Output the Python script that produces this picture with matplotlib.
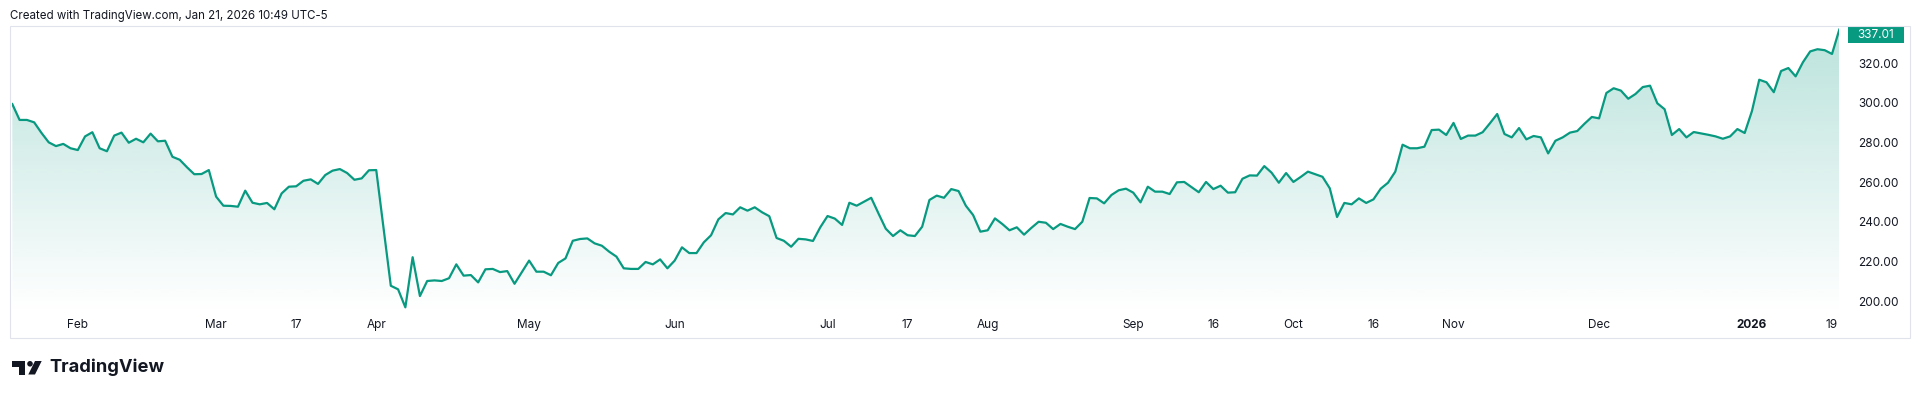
import numpy as np
import pandas as pd
import matplotlib
matplotlib.use("Agg")
import matplotlib.pyplot as plt
from matplotlib.patches import Rectangle, Circle, Polygon
from matplotlib.transforms import IdentityTransform
from matplotlib.colors import to_rgb

plt.rcParams['font.family'] = ['Inter', 'DejaVu Sans']

# daily closes, one per trading day (2025-01-21 .. 2026-01-21)
close_jan_mar = [299.4, 291.4, 291.4, 290.2, 284.9, 280.1, 278.2, 279.3, 277.1, 276.2,
                 283.1, 285.2, 277.1, 275.6, 283.5, 285.0, 279.9, 281.9, 280.1, 284.5,
                 280.6, 280.9, 272.8, 271.3, 267.5, 264.0, 264.1, 266.1, 252.7, 248.1,
                 248.0, 247.6, 255.7, 249.6, 248.8, 249.5, 246.3, 254.3, 257.7, 257.9,
                 260.7, 261.4, 259.1]
close_mar_may = [263.6, 265.8, 266.6, 264.6, 261.2, 261.9, 266.0, 266.1, 237.0, 207.7,
                 205.9, 196.8, 222.1, 202.5, 210.1, 210.4, 210.1, 211.5, 218.5, 212.8,
                 213.1, 209.4, 216.0, 216.2, 214.6, 215.1, 208.7, 214.5, 220.4, 214.8,
                 214.8, 213.0, 219.2, 221.5, 230.4, 231.3, 231.6, 229.1, 227.9, 224.9,
                 222.4, 216.5]
close_may_jul = [216.2, 216.2, 219.7, 218.5, 221.0, 216.5, 220.4, 227.1, 224.2, 224.2,
                 229.6, 233.2, 241.2, 244.4, 243.7, 247.3, 245.6, 247.3, 244.8, 242.8,
                 231.8, 230.4, 227.4, 231.4, 231.1, 230.3, 237.2, 242.9, 241.6, 238.4,
                 249.6, 248.1, 250.1, 252.1, 244.2, 236.5, 232.8, 235.7, 233.2, 232.8,
                 237.5, 251.0]
close_jul_sep = [253.2, 252.1, 256.5, 255.5, 248.1, 243.4, 235.0, 235.7, 241.7, 238.9,
                 235.7, 237.2, 233.5, 236.9, 240.0, 239.5, 236.3, 238.9, 237.5, 236.3,
                 240.0, 252.0, 251.8, 249.3, 253.5, 255.9, 256.7, 254.7, 249.8, 257.7,
                 255.2, 255.2, 254.0, 259.9, 260.1, 257.5, 254.9, 260.1, 256.5, 258.2,
                 254.7, 254.9]
close_sep_nov = [261.7, 263.4, 263.3, 268.1, 264.8, 259.7, 264.6, 260.1, 262.6, 265.3,
                 264.0, 262.7, 256.9, 242.4, 249.5, 248.8, 251.8, 249.5, 251.3, 256.7,
                 259.7, 265.3, 278.9, 277.1, 277.1, 277.9, 286.3, 286.5, 283.8, 289.9,
                 281.8, 283.5, 283.5, 285.2, 289.7, 294.4, 284.3, 282.6, 287.3, 281.6,
                 283.3, 282.6]
close_nov_jan = [274.5, 280.9, 282.6, 285.0, 285.8, 289.5, 292.9, 292.2, 305.0, 307.4,
                 306.2, 302.1, 304.5, 308.0, 308.7, 299.8, 296.8, 283.8, 286.8, 282.6,
                 285.3, 284.6, 283.9, 283.1, 281.9, 283.1, 286.8, 284.8, 295.9, 311.7,
                 310.4, 305.4, 316.1, 317.6, 313.4, 320.5, 326.0, 327.1, 326.6, 324.7,
                 337.01]

holidays = ["2025-02-17", "2025-04-18", "2025-05-26", "2025-06-19", "2025-07-04",
            "2025-09-01", "2025-11-27", "2025-12-25", "2026-01-01", "2026-01-19"]

tick_dates = ["2025-02-01", "2025-03-01", "2025-03-17", "2025-04-01", "2025-05-01",
              "2025-06-01", "2025-07-01", "2025-07-17", "2025-08-01", "2025-09-01",
              "2025-09-16", "2025-10-01", "2025-10-16", "2025-11-01", "2025-12-01",
              "2026-01-01", "2026-01-19"]
tick_labels = ["Feb", "Mar", "17", "Apr", "May", "Jun", "Jul", "17", "Aug", "Sep",
               "16", "Oct", "16", "Nov", "Dec", "2026", "19"]
price_ticks = [200, 220, 240, 260, 280, 300, 320]

close = np.array(close_jan_mar + close_mar_may + close_may_jul +
                 close_jul_sep + close_sep_nov + close_nov_jan)
dates = pd.bdate_range("2025-01-21", "2026-01-21")
dates = dates[~dates.isin(pd.to_datetime(holidays))]
x = np.arange(len(close))

green = '#089981'
txt = '#131722'
W, H = 1920, 398

fig = plt.figure(figsize=(W / 100, H / 100), dpi=100)
fig.patch.set_facecolor('white')


def box(x0, y0, x1, y1):
    # pixel box (top-left origin) -> figure fraction rect
    return [x0 / W, 1 - y1 / H, (x1 - x0) / W, (y1 - y0) / H]


ax = fig.add_axes(box(12.3, 26, 1839.3, 314))
ylo, yhi = 193.44, 338.82

# gradient area under the line
grad = np.zeros((256, 1, 4))
grad[..., :3] = to_rgb(green)
grad[..., 3] = np.linspace(0.28, 0.0, 256)[:, None]
im = ax.imshow(grad, extent=[0, len(x) - 1, ylo, yhi], aspect='auto',
               origin='upper', zorder=1, interpolation='bilinear')
verts = [(0, ylo)] + list(zip(x, close)) + [(len(x) - 1, ylo)]
clip = Polygon(verts, closed=True, facecolor='none', edgecolor='none',
               transform=ax.transData)
ax.add_patch(clip)
im.set_clip_path(clip)

ax.plot(x, close, color=green, lw=1.6, zorder=3, solid_joinstyle='round')

ax.set_xlim(0, len(x) - 1)
ax.set_ylim(ylo, yhi)
for s in ax.spines.values():
    s.set_visible(False)

# time axis: TradingView marks the first bar after the boundary (UTC-5 shift)
tick_pos = dates.searchsorted(pd.to_datetime(tick_dates) + pd.Timedelta(days=1))
ax.set_xticks(tick_pos, tick_labels)
ax.tick_params(axis='x', length=0, pad=3.5, labelsize=8.5, labelcolor=txt)
for lab in ax.get_xticklabels():
    if lab.get_text() == '2026':
        lab.set_fontweight('bold')

ax.yaxis.tick_right()
ax.set_yticks(price_ticks, [f"{v:.2f}" for v in price_ticks])
ax.tick_params(axis='y', length=0, pad=13.5, labelsize=8.5, labelcolor=txt)

# last price label on the scale
fig.canvas.draw()
last = close[-1]
yc = ax.transData.transform((0, min(last, yhi - 4.7)))[1]
fig.add_artist(Rectangle((1847.7, yc - 8), 56.3, 16, transform=IdentityTransform(),
                         facecolor=green, edgecolor='none'))
fig.text(1876, yc, f"{last:.2f}", transform=IdentityTransform(), ha='center',
         va='center', color='white', fontsize=8.5)

# chart frame
fig.add_artist(Rectangle((10, H - 338), 1900, 312, transform=IdentityTransform(),
                         fill=False, edgecolor='#e0e3eb', lw=0.8))

fig.text(10 / W, 1 - 15.5 / H, "Created with TradingView.com, Jan 21, 2026 10:49 UTC-5",
         fontsize=8.3, color=txt, va='center', ha='left')

# TradingView logo
def pbox(x0, y0, w, h):
    return Rectangle((x0, H - y0 - h), w, h, transform=IdentityTransform(),
                     facecolor=txt, edgecolor='none')

fig.add_artist(pbox(11.7, 361, 13.3, 5.5))
fig.add_artist(pbox(19, 361, 6, 13.5))
fig.add_artist(Circle((30.0, H - 363.8), 2.8, transform=IdentityTransform(),
                      facecolor=txt, edgecolor='none'))
fig.add_artist(Polygon([(35, H - 361), (41.7, H - 361), (35, H - 374.5), (28.3, H - 374.5)],
                       closed=True, transform=IdentityTransform(), facecolor=txt,
                       edgecolor='none'))
fig.text(49.3 / W, 1 - 372.5 / H, "TradingView", fontsize=13.2, fontweight='bold',
         color=txt, va='baseline', ha='left')

fig.savefig("out.png", dpi=100, facecolor='white')
